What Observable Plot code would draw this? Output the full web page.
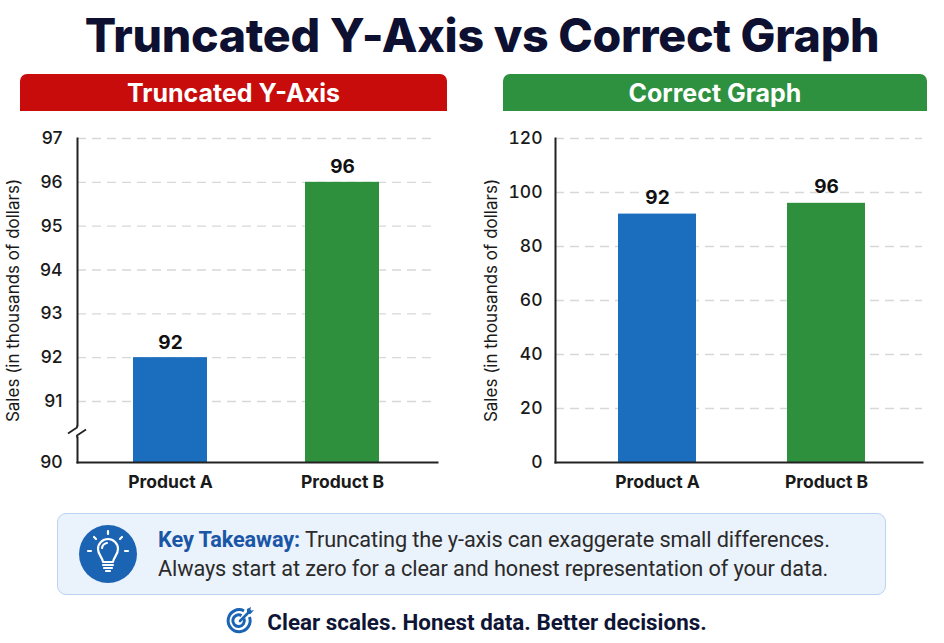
<!DOCTYPE html>
<html><head><meta charset="utf-8">
<script src="https://cdn.jsdelivr.net/npm/d3@7"></script>
<script src="https://cdn.jsdelivr.net/npm/@observablehq/plot@0.6"></script>
<style>
body{margin:0;background:#fff;font-family:Inter,sans-serif;}
#page{position:relative;width:944px;height:643px;overflow:hidden;background:#fff;}
h1{position:absolute;left:10px;top:5px;width:944px;margin:0;text-align:center;font:800 46.5px Inter,sans-serif;color:#0d1030;letter-spacing:-0.3px;line-height:60px}
.hdr{position:absolute;top:74px;height:37px;border-radius:7px 7px 0 0;color:#fff;font:700 25px Inter,sans-serif;text-align:center;line-height:39px}
#chartL{position:absolute;left:0;top:120px}
#chartR{position:absolute;left:470px;top:120px}
#box{position:absolute;left:57px;top:513px;width:829px;height:82px;background:#eaf2fc;border:1.5px solid #bcd3ef;border-radius:9px;box-sizing:border-box}
#box svg{position:absolute;left:21px;top:11px}
#box .t{position:absolute;left:100px;top:12px;font:400 21.7px Roboto,sans-serif;color:#2a2a2a;line-height:28.5px;letter-spacing:-0.1px;white-space:nowrap}
#box b{color:#1a56a6;font-weight:700}
#foot{position:absolute;left:-6px;top:606px;width:944px;text-align:center;font:700 22.4px Roboto,sans-serif;color:#0f1535;line-height:30px}
#foot svg{vertical-align:-6px;margin-right:12px}
</style></head>
<body><div id="page">
<h1 id="title"></h1>
<div class="hdr" id="hL" style="left:20px;width:427px;background:#c80c0c"></div>
<div class="hdr" id="hR" style="left:503px;width:424px;background:#2e9140"></div>
<div id="chartL"></div>
<div id="chartR"></div>
<div id="box">
<svg width="58" height="58" viewBox="0 0 58 58">
<circle cx="29" cy="29" r="29" fill="#1b63b3"/>
<g stroke="#fff" stroke-width="2.2" fill="none" stroke-linecap="round" stroke-linejoin="round">
<path d="M24 37 C24 33 19 30 19 24 A10 10 0 0 1 39 24 C39 30 34 33 34 37 Z"/>
<path d="M24 40 H34 M25 43 H33 M27 46 H31"/>
<path d="M23 23 A6 6 0 0 1 28 18"/>
<path d="M29 6 V9 M15 12 L17 14 M43 12 L41 14 M9 26 H12 M46 26 H49"/>
</g>
</svg>
<div class="t" id="take"></div>
</div>
<div id="foot"></div>
</div>
<script>
const titleText = "Truncated Y-Axis vs Correct Graph";
const leftTitle = "Truncated Y-Axis";
const rightTitle = "Correct Graph";
const products = ["Product A", "Product B"];
const sales = [92, 96];
const barColors = ["#1b6dbd", "#2e8f3c"];
const truncTicks = [90, 91, 92, 93, 94, 95, 96, 97];
const fullTicks = [0, 20, 40, 60, 80, 100, 120];
const yLabel = "Sales (in thousands of dollars)";
const takeLead = "Key Takeaway:";
const takeLines = ["Truncating the y-axis can exaggerate small differences.", "Always start at zero for a clear and honest representation of your data."];
const footerText = "Clear scales. Honest data. Better decisions.";

// broken-axis: values below 91 are drawn in a stretched segment (axis break between 90 and 91)
const breakAt = 91, breakStretch = 1.392;
const broken = v => v >= breakAt ? v : breakAt - (breakAt - v) * breakStretch;

document.getElementById("title").textContent = titleText;
document.getElementById("hL").textContent = leftTitle;
document.getElementById("hR").textContent = rightTitle;
document.getElementById("take").innerHTML = `<b>${takeLead}</b> ${takeLines[0]}<br>${takeLines[1]}`;
document.getElementById("foot").innerHTML =
 `<svg width="30" height="30" viewBox="0 0 30 30"><g fill="none" stroke="#1b63b3" stroke-width="3"><path d="M24.5 11 A11 11 0 1 1 19 4.8"/><path d="M19 12.5 A5.8 5.8 0 1 1 16.5 9.6"/></g><path d="M15 15 L25 5" stroke="#1b63b3" stroke-width="2.6" stroke-linecap="round"/><path d="M22 3 L26 1 L25 5 L29 4 L25.5 8 L22 8 Z" fill="#1b63b3"/></svg>${footerText}`;

const data = products.map((p, i) => ({product: p, sales: sales[i], color: barColors[i]}));
const font = "Inter, sans-serif";
const ink = "#1a1a1a";

const left = Plot.plot({
  width: 470, height: 380,
  marginLeft: 77, marginRight: 33, marginTop: 18, marginBottom: 38,
  style: {fontFamily: font, color: ink, overflow: "visible"},
  x: {domain: products, paddingInner: 0.567, paddingOuter: 0.327, align: 0.494, label: null},
  y: {domain: [broken(truncTicks[0]), truncTicks[truncTicks.length - 1]], label: null, axis: null},
  color: {type: "identity"},
  marks: [
    Plot.ruleY(truncTicks.filter(d => d > truncTicks[0]), {y: broken, stroke: "#d8d8d8", strokeDasharray: "9,6", strokeWidth: 1.3}),
    Plot.barY(data, {x: "product", y1: () => broken(truncTicks[0]), y2: d => broken(d.sales), fill: "color"}),
    Plot.text(data, {x: "product", y: d => broken(d.sales), text: d => String(d.sales), dy: -15, fontSize: 19, fontWeight: 700, fill: "#111"}),
    Plot.text(truncTicks, {y: broken, text: d => String(d), frameAnchor: "left", textAnchor: "end", dx: -15, fontSize: 17.5, fontWeight: 500, fill: ink}),
    Plot.axisX({tickSize: 0, tickPadding: 13, fontSize: 17.5, fontWeight: 700, label: null, fill: ink}),
    Plot.text([yLabel], {frameAnchor: "left", textAnchor: "middle", rotate: -90, dx: -64, fontSize: 17, fill: ink}),
    Plot.frame({anchor: "left", stroke: "#222", strokeWidth: 2}),
    Plot.frame({anchor: "bottom", stroke: "#222", strokeWidth: 2})
  ]
});
// axis break marker, placed with the plot's own y scale
{
  const ys = left.scale("y").apply(broken(90.5));
  const g = d3.select(left).append("g").attr("transform", `translate(77,${ys})`);
  g.append("rect").attr("x", -4).attr("y", -5).attr("width", 8).attr("height", 10).attr("fill", "#fff");
  g.append("path").attr("d", "M0,-6 L0,-4 L-9,2 M9,-2 L0,4 L0,6")
    .attr("stroke", "#222").attr("stroke-width", 1.8).attr("fill", "none").attr("stroke-linejoin", "round");
}
document.getElementById("chartL").append(left);

const right = Plot.plot({
  width: 474, height: 380,
  marginLeft: 85, marginRight: 22, marginTop: 18, marginBottom: 38,
  style: {fontFamily: font, color: ink, overflow: "visible"},
  x: {domain: products, paddingInner: 0.541, paddingOuter: 0.35, align: 0.52, label: null},
  y: {domain: [fullTicks[0], fullTicks[fullTicks.length - 1]], label: null},
  color: {type: "identity"},
  marks: [
    Plot.ruleY(fullTicks.filter(d => d > 0), {stroke: "#d8d8d8", strokeDasharray: "9,6", strokeWidth: 1.3}),
    Plot.barY(data, {x: "product", y: "sales", fill: "color"}),
    Plot.text(data, {x: "product", y: "sales", text: d => String(d.sales), dy: -16, fontSize: 19, fontWeight: 700, fill: "#111"}),
    Plot.axisY({ticks: fullTicks, tickSize: 0, tickPadding: 13, fontSize: 17.5, fontWeight: 500, label: null, fill: ink}),
    Plot.axisX({tickSize: 0, tickPadding: 13, fontSize: 17.5, fontWeight: 700, label: null, fill: ink}),
    Plot.text([yLabel], {frameAnchor: "left", textAnchor: "middle", rotate: -90, dx: -64, fontSize: 17, fill: ink}),
    Plot.frame({anchor: "left", stroke: "#222", strokeWidth: 2}),
    Plot.frame({anchor: "bottom", stroke: "#222", strokeWidth: 2})
  ]
});
document.getElementById("chartR").append(right);
</script>
</body></html>
